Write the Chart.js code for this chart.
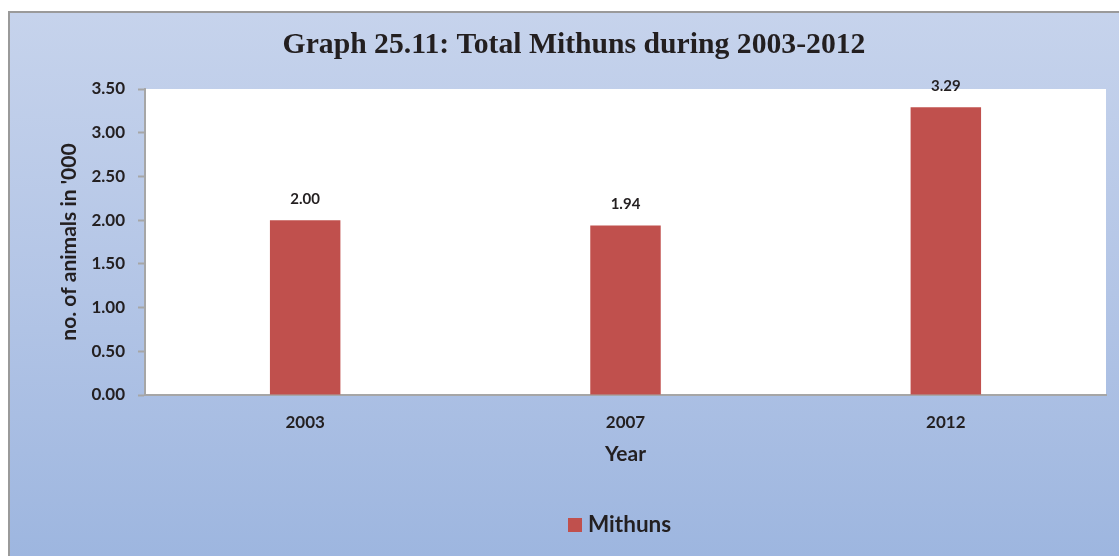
<!DOCTYPE html>
<html>
<head>
<meta charset="utf-8">
<script src="https://cdn.jsdelivr.net/npm/chart.js@4.4.0/dist/chart.umd.min.js"></script>
<style>
  html, body { margin: 0; padding: 0; background: #ffffff; overflow: hidden; }
  #frame {
    position: absolute; left: 8px; top: 11px; width: 1130px; height: 560px;
    border-left: 2px solid #9a9a9a; border-top: 2px solid #9a9a9a;
    background: linear-gradient(to bottom, #c6d3ec 0%, #b3c5e6 50%, #9cb5df 100%);
  }
  #wrap { position: absolute; left: 0; top: 0; width: 1119px; height: 556px; }
</style>
</head>
<body>
<div id="frame"></div>
<div id="wrap"><canvas id="c" width="1119" height="556"></canvas></div>
<script>
const chartTitle = "Graph 25.11: Total Mithuns during 2003-2012";
const categories = ["2003", "2007", "2012"];
const seriesName = "Mithuns";
const mithuns = [2.00, 1.94, 3.29];
const yTicks = [0, 0.5, 1, 1.5, 2, 2.5, 3, 3.5];
const xTitle = "Year";
const yTitle = "no. of animals in '000";

const SANS = "Lato, 'Open Sans', sans-serif";
const SERIF = "'Liberation Serif', serif";
const BAR = "#c0504d";
const TXT = "#231f20";

const decor = {
  id: 'decor',
  beforeDraw(chart) {
    const {ctx, chartArea: a} = chart;
    ctx.save();
    ctx.fillStyle = '#ffffff';
    ctx.fillRect(a.left, a.top, a.right - a.left, a.bottom - a.top);
    ctx.restore();
  },
  afterDraw(chart) {
    const {ctx} = chart;
    ctx.save();
    // title (font size chosen so the text width matches the reference width)
    ctx.fillStyle = TXT;
    ctx.font = "bold 26px " + SERIF;
    const w = ctx.measureText(chartTitle).width;
    const size = Math.min(30, 26 * 584 / w);
    ctx.font = "bold " + size.toFixed(1) + "px " + SERIF;
    ctx.textAlign = 'center';
    ctx.textBaseline = 'middle';
    ctx.fillText(chartTitle, 574, 45);
    // data labels
    const meta = chart.getDatasetMeta(0);
    ctx.font = "bold 15px " + SANS;
    meta.data.forEach((bar, i) => {
      ctx.fillText(mithuns[i].toFixed(2), bar.x, bar.y - 21);
    });
    // legend
    ctx.fillStyle = BAR;
    ctx.fillRect(568, 518, 14, 14);
    ctx.fillStyle = TXT;
    ctx.font = "bold 22.5px " + SANS;
    ctx.textAlign = 'left';
    ctx.fillText(seriesName, 588, 525);
    ctx.restore();
  }
};

new Chart(document.getElementById('c'), {
  type: 'bar',
  data: {
    labels: categories,
    datasets: [{
      label: seriesName,
      data: mithuns,
      backgroundColor: BAR,
      borderWidth: 0,
      barPercentage: 0.22,
      categoryPercentage: 1.0
    }]
  },
  options: {
    responsive: false,
    animation: false,
    layout: { padding: { left: 0, right: 13, top: 89, bottom: 89 } },
    plugins: {
      legend: { display: false },
      title: { display: false },
      tooltip: { enabled: false }
    },
    scales: {
      x: {
        afterFit(s) { s.height = 72; },
        grid: { display: true, drawOnChartArea: false, drawTicks: false },
        border: { display: true, color: '#a6a6a6', width: 2 },
        ticks: { color: TXT, font: { family: SANS, size: 17, weight: 'bold' }, padding: 17 },
        title: { display: true, text: xTitle, color: TXT, font: { family: SANS, size: 21, weight: 'bold' }, padding: { top: 0, bottom: 0 } }
      },
      y: {
        min: 0, max: 3.5,
        afterFit(s) { s.width = 145; },
        afterBuildTicks(s) { s.ticks = yTicks.map(v => ({ value: v })); },
        grid: { display: true, drawOnChartArea: false, drawTicks: true, tickLength: 7, color: '#a6a6a6', tickWidth: 2 },
        border: { display: true, color: '#a6a6a6', width: 2 },
        ticks: { color: TXT, font: { family: SANS, size: 17, weight: 'bold' }, padding: 13,
                 callback: v => Number(v).toFixed(2) },
        title: { display: true, text: yTitle, color: TXT, font: { family: SANS, size: 21, weight: 'bold' }, padding: { top: 57, bottom: 0 } }
      }
    }
  },
  plugins: [decor]
});
</script>
</body>
</html>
